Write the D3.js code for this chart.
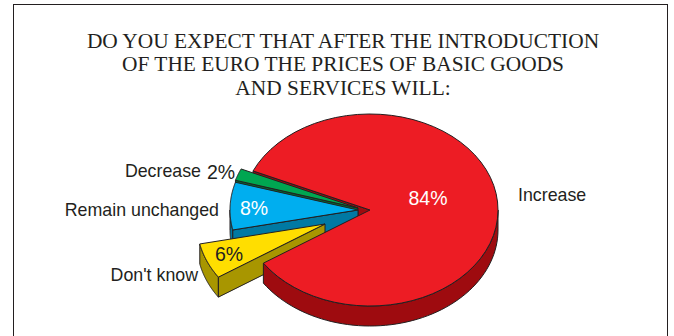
<!DOCTYPE html>
<html>
<head>
<meta charset="utf-8">
<script src="https://cdn.jsdelivr.net/npm/d3@7/dist/d3.min.js"></script>
<style>
html,body{margin:0;padding:0;background:#fff;}
svg{display:block;}
text{fill:#231f20;}
</style>
</head>
<body>
<svg id="chart" width="674" height="336"></svg>
<script>
// Survey answers, in clockwise drawing order from the upper-left cut of the big slice
const categories = ["Increase", "Don't know", "Remain unchanged", "Decrease"];
const shares = [84, 6, 8, 2];
const shareLabels = ["84%", "6%", "8%", "2%"];
const titleLines = [
  "DO YOU EXPECT THAT AFTER THE INTRODUCTION",
  "OF THE EURO THE PRICES OF BASIC GOODS",
  "AND SERVICES WILL:"
];

const topColors = ["#ed1c24", "#ffde00", "#00aeef", "#00a651"];
const sideColors = ["#9e0b0f", "#a89600", "#0079a3", "#006a33"];
const ink = "#231f20";

// Pie geometry: an ellipse for the tilted disc plus a constant wall height
const cx = 370, cy = 210, rx = 128, ry = 96, depth = 20;
const explode = [[0, 0], [-45, 14], [-12, 0], [-12, -2]];

const sx = d3.scaleLinear().domain([-1, 1]).range([cx - rx, cx + rx]);
const sy = d3.scaleLinear().domain([-1, 1]).range([cy - ry, cy + ry]);

const arcs = d3.pie().sort(null).value(d => d)
  .startAngle(-66 * Math.PI / 180)
  .endAngle(294 * Math.PI / 180)(shares);

const svg = d3.select("#chart");
const line = d3.line();
const rim = (a, i, dy = 0) => [
  sx(Math.sin(a)) + explode[i][0],
  sy(-Math.cos(a)) + explode[i][1] + dy
];
const hub = (i, dy = 0) => [cx + explode[i][0], cy + explode[i][1] + dy];
const sweep = (a0, a1, i, dy = 0) =>
  d3.range(0, 1.0001, 1 / 60).map(t => rim(a0 + (a1 - a0) * t, i, dy));

const drawShape = (pts, fill) => svg.append("path")
  .attr("d", line(pts) + "Z")
  .attr("fill", fill)
  .attr("stroke", ink)
  .attr("stroke-width", 1)
  .attr("stroke-linejoin", "round");

// Outer wall is only visible on the lower half of the ellipse
function outerWall(d, i) {
  const a0 = Math.max(d.startAngle, Math.PI / 2);
  const a1 = Math.min(d.endAngle, 3 * Math.PI / 2);
  if (a1 <= a0) return;
  drawShape(sweep(a0, a1, i).concat(sweep(a1, a0, i, depth)), sideColors[i]);
}
// Cut wall running down from the edge between the hub and angle a
function cutWall(a, i) {
  drawShape([hub(i), rim(a, i), rim(a, i, depth), hub(i, depth)], sideColors[i]);
}
function topFace(d, i) {
  drawShape([hub(i)].concat(sweep(d.startAngle, d.endAngle, i)), topColors[i]);
}

svg.append("rect")
  .attr("x", 13.5).attr("y", 4.5)
  .attr("width", 654).attr("height", 340)
  .attr("fill", "#fff").attr("stroke", ink).attr("stroke-width", 1);

svg.selectAll("text.title").data(titleLines).join("text")
  .attr("class", "title")
  .attr("x", 343)
  .attr("y", (d, i) => [48, 71, 95][i])
  .attr("text-anchor", "middle")
  .attr("font-family", "Liberation Serif")
  .attr("font-size", 21.4)
  .text(d => d);

// Back-to-front: far cut of the big slice, then the small slices, then the big slice
cutWall(arcs[0].startAngle, 0);
cutWall(arcs[3].startAngle, 3);
topFace(arcs[3], 3);
outerWall(arcs[2], 2);
cutWall(arcs[2].startAngle, 2);
topFace(arcs[2], 2);
outerWall(arcs[1], 1);
cutWall(arcs[1].startAngle, 1);
topFace(arcs[1], 1);
outerWall(arcs[0], 0);
topFace(arcs[0], 0);

const labelFont = "Liberation Sans";
const addLabel = (t, x, y, anchor, fill, size) => svg.append("text")
  .attr("x", x).attr("y", y)
  .attr("text-anchor", anchor)
  .attr("font-family", labelFont)
  .attr("font-size", size)
  .style("fill", fill)
  .text(t);

addLabel(categories[0], 518, 201, "start", ink, 17.8);
addLabel(categories[2], 219, 216, "end", ink, 17.8);
addLabel(categories[1], 198, 281, "end", ink, 17.8);
addLabel(categories[3], 201, 177, "end", ink, 17.8);

addLabel(shareLabels[0], 428, 205, "middle", "#fff", 19.5);
addLabel(shareLabels[2], 254, 215, "middle", "#fff", 19.5);
addLabel(shareLabels[1], 229, 261, "middle", ink, 19.5);
addLabel(shareLabels[3], 221, 179, "middle", ink, 19.5);
</script>
</body>
</html>
